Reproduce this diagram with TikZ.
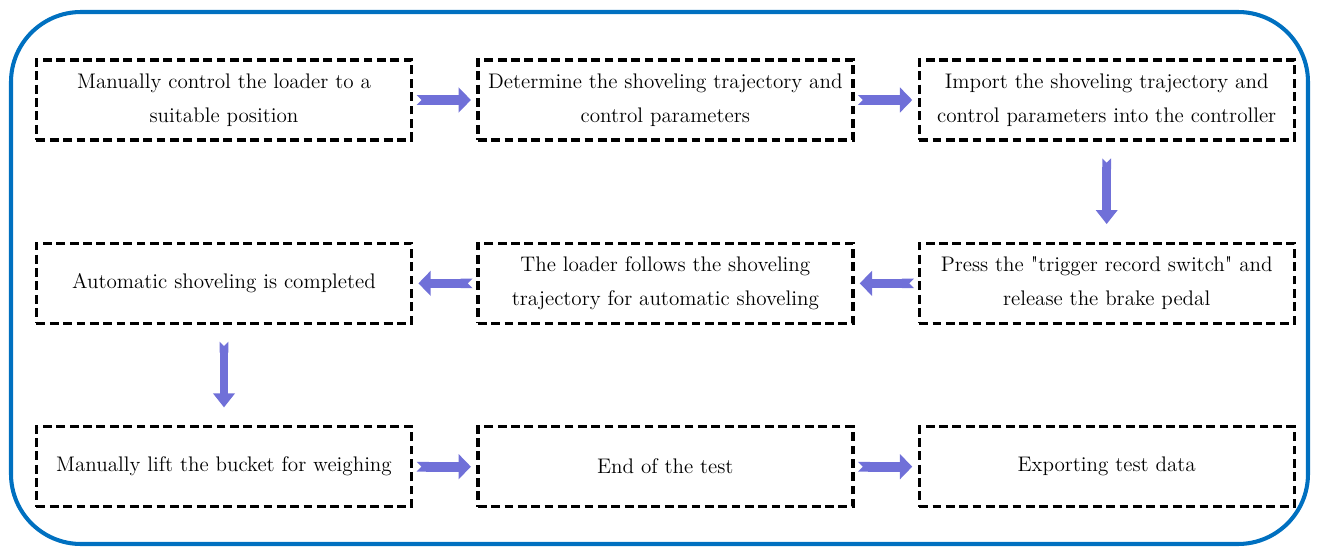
\documentclass[tikz,border=0pt]{standalone}
\usetikzlibrary{arrows.meta,positioning}
\definecolor{framecol}{RGB}{0,112,192}
\definecolor{arrowcol}{RGB}{112,112,216}
\begin{document}
\begin{tikzpicture}[node distance=2cm and 1.26cm,
        box/.style={draw, line width=1.9pt, dash pattern=on 5pt off 2.6pt,
            minimum width=7.5cm, minimum height=1.6cm, inner sep=0pt, align=center,
            font=\fontsize{12}{19.3}\selectfont},
        hfat/.style={line width=5.5pt, color=arrowcol,
            {Triangle Cap[reversed]}-{Triangle[length=7pt,width=14pt]},
            shorten <=2pt, shorten >=3pt},
        vfat/.style={line width=5pt, color=arrowcol,
            {Triangle Cap[reversed]}-{Triangle[length=8pt,width=12pt]},
            shorten <=9.5pt, shorten >=10pt}]
            \useasboundingbox (0,0) rectangle (26.34,-10.94);
            \draw[framecol, line width=2.3pt, rounded corners=1.4cm] (0.22,-0.24) rectangle (26.16,-10.88);
            \node[box](manual) at (4.48,-2.0) {Manually control the loader to a\\suitable position};
            \node[box](determine)[right=of manual] {Determine the shoveling trajectory and\\control parameters};
            \node[box](import)[right=of determine] {Import the shoveling trajectory and\\control parameters into the controller};
            \node[box](press)[below=of import] {Press the \textquotedbl trigger record switch\textquotedbl{} and\\release the brake pedal};
            \node[box](follow)[left=of press] {The loader follows the shoveling\\trajectory for automatic shoveling};
            \node[box](complete)[left=of follow] {Automatic shoveling is completed};
            \node[box](lift)[below=of complete] {Manually lift the bucket for weighing};
            \node[box](testend)[right=of lift] {End of the test};
            \node[box](export)[right=of testend] {Exporting test data};
            \path[hfat]
                (manual) edge (determine)
                (determine) edge (import)
                (press) edge (follow)
                (follow) edge (complete)
                (lift) edge (testend)
                (testend) edge (export);
            \path[vfat]
                (import) edge (press)
                (complete) edge (lift);
        \end{tikzpicture}
\end{document}
